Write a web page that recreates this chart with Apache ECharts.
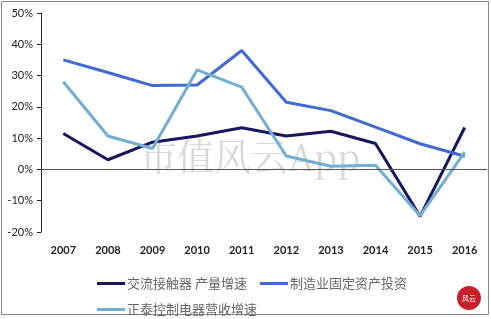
<!DOCTYPE html>
<html><head><meta charset="utf-8">
<script src="https://cdn.jsdelivr.net/npm/echarts@6/dist/echarts.min.js"></script>
<style>html,body{margin:0;padding:0;background:#fff}#c{width:491px;height:319px}</style>
</head><body><div id="c"></div>
<script>
var years = ['2007','2008','2009','2010','2011','2012','2013','2014','2015','2016'];
var contactorOutput = [11.5, 3.1, 8.7, 10.7, 13.3, 10.7, 12.2, 8.3, -15.0, 13.4];
var mfgInvestment = [35.0, 31.0, 26.8, 27.0, 38.0, 21.5, 18.8, 13.5, 8.2, 4.2];
var chintRevenue = [28.0, 10.7, 6.7, 31.8, 26.3, 4.3, 1.0, 1.3, -14.8, 5.5];
var yTicks = [-20, -10, 0, 10, 20, 30, 40, 50];
var names = ['交流接触器 产量增速', '制造业固定资产投资', '正泰控制电器营收增速'];
var colors = ['#16175e', '#4169d4', '#72aed3'];

var chart = echarts.init(document.getElementById('c'));
function mk(i, d) {
  return {name: names[i], type: 'line', data: d, symbol: 'none', smooth: false,
    lineStyle: {width: 3, color: colors[i]}, itemStyle: {color: colors[i]}};
}
var s0 = mk(0, contactorOutput);
s0.markLine = {silent: true, symbol: 'none', label: {show: false},
  lineStyle: {color: '#555', width: 1, type: 'solid'}, data: [{yAxis: 0}]};
chart.setOption({
  animation: false,
  graphic: [
    {type: 'rect', shape: {x: 1.5, y: 1.5, width: 487, height: 313}, style: {fill: 'none', stroke: '#888', lineWidth: 1}, z: -1},
    {type: 'text', left: 140, top: 138, z: 0, style: {text: '市值风云App', fill: 'rgba(190,190,190,0.6)', font: '37px "Noto Serif CJK SC", "Noto Sans CJK SC", serif'}},
    {type: 'circle', shape: {cx: 469, cy: 298, r: 12}, style: {fill: '#c8202a'}},
    {type: 'text', x: 469, y: 298, style: {text: '风云', fill: '#fff', font: '7px "Noto Sans CJK SC"', align: 'center', verticalAlign: 'middle'}}
  ],
  grid: {left: 41, right: 4, top: 13, bottom: 87, containLabel: false},
  legend: {
    data: names, left: 92, top: 272, width: 330, itemWidth: 28, itemHeight: 3, itemGap: 13,
    icon: 'rect',
    textStyle: {fontSize: 13, color: '#666', fontFamily: '"Noto Sans CJK SC"', padding: [0, 0, 0, -3]}
  },
  xAxis: {
    type: 'category', data: years, boundaryGap: true,
    axisLine: {show: false, onZero: false}, axisTick: {show: false},
    axisLabel: {fontSize: 11, color: '#222', margin: 13, fontFamily: 'Lato, "Open Sans", sans-serif', fontWeight: 'bold'}
  },
  yAxis: {
    type: 'value', min: -20, max: 50, interval: 10,
    axisLine: {show: true, lineStyle: {color: '#222', width: 1}},
    axisTick: {show: true, inside: false, length: 4, lineStyle: {color: '#222'}},
    splitLine: {show: false},
    axisLabel: {fontSize: 11, color: '#222', margin: 8, fontFamily: 'Lato, "Open Sans", sans-serif', formatter: function (v) { return v + '%'; }}
  },
  series: [s0, mk(1, mfgInvestment), mk(2, chintRevenue)]
});
</script></body></html>
